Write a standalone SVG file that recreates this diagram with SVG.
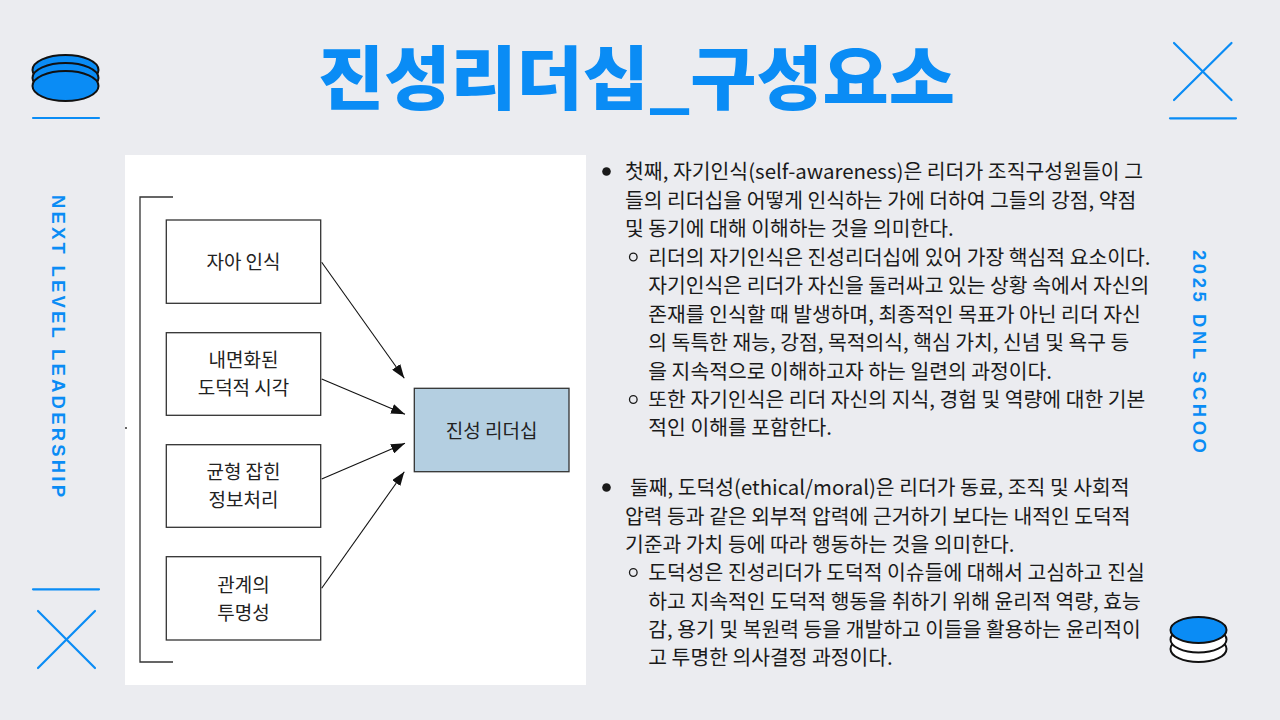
<svg xmlns="http://www.w3.org/2000/svg" width="1280" height="720" viewBox="0 0 1280 720">
<style>
.blue{fill:#0a8cf5}
.bl{stroke:#0a8cf5;stroke-width:2.2;fill:none;stroke-linecap:round}
.vt{font-family:"Liberation Sans",Arial,sans-serif;font-weight:bold;font-size:18.5px;fill:#0a8cf5}
.box{fill:#ffffff;stroke:#333333;stroke-width:1.3}
.lbl{font-family:"Noto Sans CJK KR","Noto Sans",sans-serif;font-size:19px;fill:#222222;text-anchor:middle}
.body{font-family:"Noto Sans CJK KR","Noto Sans",sans-serif;font-size:20.4px;fill:#1a1a1a}
.coin{fill:#0a8cf5;stroke:#111;stroke-width:2}
.coinw{fill:#ffffff;stroke:#111;stroke-width:2}
.dot{fill:#1a1a1a}
.ring{fill:none;stroke:#1a1a1a;stroke-width:1.3}
</style>
<defs>
<marker id="ah" viewBox="0 0 14 10" refX="14" refY="5" markerWidth="14" markerHeight="10" orient="auto" markerUnits="userSpaceOnUse">
<path d="M0,0 L14,5 L0,10 z" fill="#111"/>
</marker>
</defs>
<rect x="0" y="0" width="1280" height="720" fill="#ebecf0"/>

<!-- title -->
<text x="636.5" y="104" text-anchor="middle" textLength="637" lengthAdjust="spacingAndGlyphs" font-family="'Noto Sans CJK KR',sans-serif" font-weight="900" font-size="69" class="blue">진성리더십_구성요소</text>

<!-- decorations -->
<g id="deco-top-left">
<ellipse class="coin" cx="65.5" cy="70" rx="33" ry="15"/>
<ellipse class="coin" cx="65.5" cy="78" rx="33" ry="15"/>
<ellipse class="coin" cx="65.5" cy="86" rx="33" ry="15"/>
<line class="bl" x1="33" y1="118" x2="99" y2="118"/>
</g>
<g id="deco-top-right">
<line class="bl" x1="1174" y1="43" x2="1231.5" y2="100"/>
<line class="bl" x1="1231.5" y1="43" x2="1174" y2="100"/>
<line class="bl" x1="1170" y1="118.3" x2="1236" y2="118.3"/>
</g>
<g id="deco-bottom-left">
<line class="bl" x1="33" y1="589.3" x2="99" y2="589.3"/>
<line class="bl" x1="38" y1="611" x2="95" y2="668"/>
<line class="bl" x1="95" y1="611" x2="38" y2="668"/>
</g>
<g id="deco-bottom-right">
<ellipse class="coinw" cx="1198.5" cy="649" rx="28" ry="13"/>
<ellipse class="coinw" cx="1198.5" cy="639.5" rx="28" ry="13"/>
<ellipse class="coin" cx="1198.5" cy="630" rx="28" ry="13"/>
</g>

<!-- vertical texts -->
<text class="vt" transform="translate(58.8,195) rotate(90)" x="0" y="6.7" textLength="302" lengthAdjust="spacing">NEXT LEVEL LEADERSHIP</text>
<text class="vt" transform="translate(1200,250) rotate(90)" x="0" y="6.7" textLength="203" lengthAdjust="spacing">2025 DNL SCHOO</text>

<!-- diagram panel -->
<rect x="125" y="155" width="461" height="530" fill="#ffffff"/>
<g id="bracket" fill="none" stroke="#333" stroke-width="1.3">
<polyline points="173,197 140,197 140,662 173,662"/>
<line x1="125" y1="428" x2="127" y2="428"/>
</g>

<g id="node-self">
<rect class="box" x="166.3" y="220" width="154.4" height="83.3"/>
<text class="lbl" x="243.5" y="268.5">자아 인식</text>
</g>
<g id="node-moral">
<rect class="box" x="166.3" y="332.7" width="154.4" height="82.6"/>
<text class="lbl" x="243.5" y="366.5">내면화된</text>
<text class="lbl" x="243.5" y="395">도덕적 시각</text>
</g>
<g id="node-balanced">
<rect class="box" x="166.3" y="444.7" width="154.4" height="82.6"/>
<text class="lbl" x="243.5" y="478.5">균형 잡힌</text>
<text class="lbl" x="243.5" y="507">정보처리</text>
</g>
<g id="node-transparency">
<rect class="box" x="166.3" y="556.7" width="154.4" height="83.3"/>
<text class="lbl" x="243.5" y="591.5">관계의</text>
<text class="lbl" x="243.5" y="620">투명성</text>
</g>
<g id="node-authentic">
<rect x="414.3" y="388.3" width="154.7" height="83.4" fill="#b4cfe1" stroke="#333" stroke-width="1.3"/>
<text class="lbl" x="491.7" y="438">진성 리더십</text>
</g>

<g id="connectors" stroke="#111" stroke-width="1.1" fill="none" marker-end="url(#ah)">
<line x1="321.7" y1="262.3" x2="404.3" y2="378.3"/>
<line x1="321.7" y1="379" x2="405" y2="414.3"/>
<line x1="321.7" y1="479" x2="405" y2="443.3"/>
<line x1="321.7" y1="588.3" x2="404.3" y2="471.7"/>
</g>

<!-- body text -->
<g id="text-block-1">
<circle class="dot" cx="606.5" cy="171.5" r="4.3"/>
<text class="body" x="625" y="179.3" textLength="518" lengthAdjust="spacingAndGlyphs">첫째, 자기인식(self-awareness)은 리더가 조직구성원들이 그</text>
<text class="body" x="625" y="207.8">들의 리더십을 어떻게 인식하는 가에 더하여 그들의 강점, 약점</text>
<text class="body" x="625" y="236.2">및 동기에 대해 이해하는 것을 의미한다.</text>
<circle class="ring" cx="633.3" cy="257" r="3.8"/>
<text class="body" x="648.3" y="264.7">리더의 자기인식은 진성리더십에 있어 가장 핵심적 요소이다.</text>
<text class="body" x="648.3" y="293.1">자기인식은 리더가 자신을 둘러싸고 있는 상황 속에서 자신의</text>
<text class="body" x="648.3" y="321.6">존재를 인식할 때 발생하며, 최종적인 목표가 아닌 리더 자신</text>
<text class="body" x="648.3" y="350">의 독특한 재능, 강점, 목적의식, 핵심 가치, 신념 및 욕구 등</text>
<text class="body" x="648.3" y="378.5">을 지속적으로 이해하고자 하는 일련의 과정이다.</text>
<circle class="ring" cx="633.3" cy="399.5" r="3.8"/>
<text class="body" x="648.3" y="407">또한 자기인식은 리더 자신의 지식, 경험 및 역량에 대한 기본</text>
<text class="body" x="648.3" y="435.4">적인 이해를 포함한다.</text>
</g>
<g id="text-block-2">
<circle class="dot" cx="606.5" cy="487.5" r="4.3"/>
<text class="body" x="630" y="495.3">둘째, 도덕성(ethical/moral)은 리더가 동료, 조직 및 사회적</text>
<text class="body" x="625" y="523.6">압력 등과 같은 외부적 압력에 근거하기 보다는 내적인 도덕적</text>
<text class="body" x="625" y="552">기준과 가치 등에 따라 행동하는 것을 의미한다.</text>
<circle class="ring" cx="633.3" cy="572.5" r="3.8"/>
<text class="body" x="648.3" y="580.3">도덕성은 진성리더가 도덕적 이슈들에 대해서 고심하고 진실</text>
<text class="body" x="648.3" y="608.6">하고 지속적인 도덕적 행동을 취하기 위해 윤리적 역량, 효능</text>
<text class="body" x="648.3" y="637">감, 용기 및 복원력 등을 개발하고 이들을 활용하는 윤리적이</text>
<text class="body" x="648.3" y="665.3">고 투명한 의사결정 과정이다.</text>
</g>
</svg>
